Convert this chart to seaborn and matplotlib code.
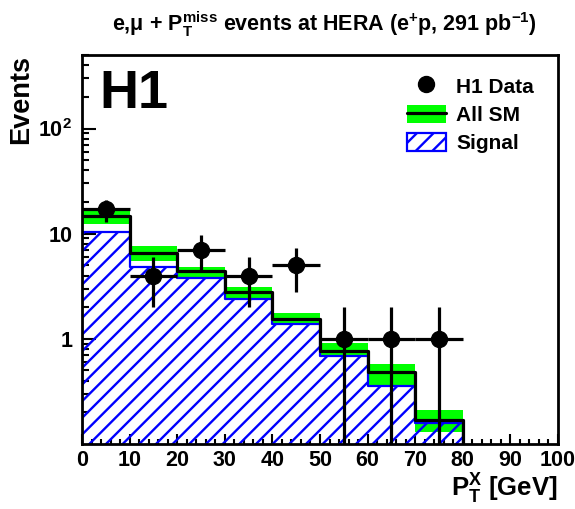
import numpy as np
import pandas as pd
import matplotlib
matplotlib.use("Agg")
import matplotlib.pyplot as plt
from matplotlib.lines import Line2D
from matplotlib.patches import Patch
from matplotlib.ticker import FixedLocator, FixedFormatter, MultipleLocator, LogLocator, NullFormatter
import seaborn as sns

# Binning in hadronic transverse momentum P_T^X [GeV]
bin_edges = [0, 10, 20, 30, 40, 50, 60, 70, 80, 90, 100]

# Observed events per bin (none above 80 GeV)
data_counts = [17, 4, 7, 4, 5, 1, 1, 1]

# Total Standard Model expectation and its uncertainty band
sm_total = [14.7, 6.6, 4.37, 2.76, 1.55, 0.77, 0.48, 0.17, 0.0, 0.0]
sm_upper = [16.5, 7.65, 4.77, 3.13, 1.75, 0.92, 0.58, 0.21]
sm_lower = [12.4, 5.5, 3.78, 2.45, 1.40, 0.67, 0.35, 0.13]

# Signal (W production) contribution
signal = [10.3, 4.85, 3.77, 2.39, 1.38, 0.69, 0.355, 0.16]

sns.set_theme(style="ticks")
plt.rcParams.update({
    "font.family": ["Liberation Sans", "DejaVu Sans"],
    "font.weight": "bold",
    "axes.labelweight": "bold",
    "text.color": "black",
    "axes.labelcolor": "black",
    "xtick.color": "black",
    "ytick.color": "black",
    "mathtext.fontset": "custom",
    "mathtext.rm": "Liberation Sans:bold",
    "mathtext.bf": "Liberation Sans:bold",
    "mathtext.it": "Liberation Sans:bold",
    "mathtext.default": "rm",
    "hatch.linewidth": 1.7,
    "axes.linewidth": 2.0,
    "figure.facecolor": "white",
    "axes.facecolor": "white",
})

fig = plt.figure(figsize=(5.75, 5.09), dpi=100)
ax = fig.add_axes([82 / 575, 65 / 509, 476 / 575, 389 / 509])
ax.set_yscale("log")

edges = np.array(bin_edges, dtype=float)
centers = 0.5 * (edges[:-1] + edges[1:])
n_sig = len(signal)

sig_df = pd.DataFrame({"pt": centers[:n_sig], "w": signal})
sm_df = pd.DataFrame({"pt": centers, "w": sm_total})

# Uncertainty band of the SM prediction
band_x = edges[: n_sig + 1]
ax.fill_between(band_x, np.append(sm_lower, sm_lower[-1]), np.append(sm_upper, sm_upper[-1]),
                step="post", color="#00ff00", linewidth=0, zorder=1)

# Signal contribution: hatched histogram
n_coll = len(ax.collections)
n_lines0 = len(ax.lines)
sns.histplot(data=sig_df, x="pt", weights="w", bins=list(bin_edges[: n_sig + 1]),
             element="step", fill=True, ax=ax)
sig_art = ax.collections[n_coll]
sig_art.set_facecolor("none")
sig_art.set_edgecolor("#0000ff")
sig_art.set_hatch("//")
sig_art.set_linewidth(1.6)
sig_art.set_alpha(1.0)
sig_art.set_zorder(2)
for ln in ax.lines[n_lines0:]:
    ln.remove()

# Total SM expectation as a black step line
n_lines = len(ax.lines)
sns.histplot(data=sm_df, x="pt", weights="w", bins=list(bin_edges), element="step",
             fill=False, color="black", linewidth=2.3, ax=ax)
for ln in ax.lines[n_lines:]:
    ln.set_zorder(3)

# Data with Poisson errors and bin-width horizontal bars
dc = np.array(data_counts, dtype=float)
yerr = np.sqrt(dc)
ax.errorbar(centers[: len(dc)], dc, yerr=yerr, xerr=5.0, fmt="o", color="black",
            markersize=11.5, elinewidth=2.3, capsize=0, zorder=4)

ax.set_xlim(0, 100)
ax.set_ylim(0.1, 500)

# Axis ticks
ax.xaxis.set_major_locator(MultipleLocator(10))
ax.xaxis.set_minor_locator(MultipleLocator(2))
ax.yaxis.set_major_locator(FixedLocator([1, 10, 100]))
ax.yaxis.set_major_formatter(FixedFormatter(["1", "10", "10$^{2}$"]))
ax.yaxis.set_minor_locator(LogLocator(base=10, subs=np.arange(2, 10)))
ax.yaxis.set_minor_formatter(NullFormatter())
ax.tick_params(axis="both", which="both", direction="in", top=False, right=False,
               width=1.5, colors="black", labelsize=15.5)
ax.tick_params(axis="x", which="major", length=7.5, pad=4)
ax.tick_params(axis="x", which="minor", length=3.5)
ax.tick_params(axis="y", which="major", length=10, pad=7)
ax.tick_params(axis="y", which="minor", length=5)
for lab in ax.get_xticklabels() + ax.get_yticklabels():
    lab.set_fontweight("bold")
for sp in ax.spines.values():
    sp.set_color("black")
    sp.set_linewidth(2.0)
    sp.set_zorder(5)

ax.set_xlabel(r"P$_{\mathrm{T}}^{\mathrm{X}}$ [GeV]", fontsize=18.5, loc="right", labelpad=1)
ax.set_ylabel("Events", fontsize=19.5, loc="top", labelpad=3)

ax.text(0.037, 0.963, "H1", transform=ax.transAxes, fontsize=39, fontweight="bold",
        ha="left", va="top", color="black")

fig.text(0.564, 0.952,
         r"e,μ + P$_{\mathrm{T}}^{\mathrm{miss}}$ events at HERA (e$^{\mathbf{+}}$p, 291 pb$^{-1}$)",
         fontsize=15.5, fontweight="bold", ha="center", va="center", color="black")

handles = [
    Line2D([], [], marker="o", color="black", ls="none", markersize=11.5),
    (Patch(facecolor="#00ff00", edgecolor="none"), Line2D([], [], color="black", lw=2.3)),
    Patch(facecolor="white", edgecolor="#0000ff", hatch="//", linewidth=1.6),
]
ax.legend(handles, ["H1 Data", "All SM", "Signal"], loc="upper left",
          bbox_to_anchor=(0.683, 0.945), frameon=False, fontsize=15, borderpad=0,
          handlelength=1.85, handleheight=0.95, handletextpad=0.5, labelspacing=0.4,
          borderaxespad=0)

fig.savefig("out.png", dpi=100, facecolor="white")
